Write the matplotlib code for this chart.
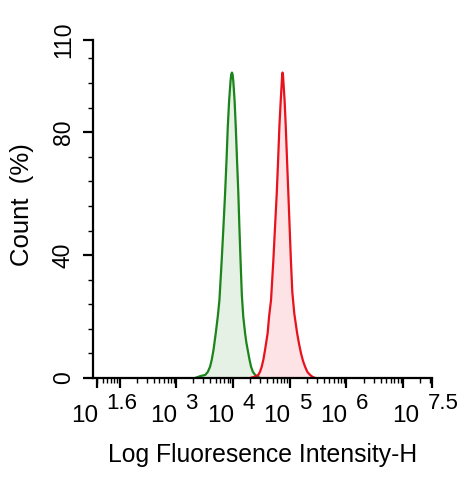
import matplotlib
matplotlib.use("Agg")
import matplotlib.pyplot as plt
import matplotlib.transforms as mtransforms
import numpy as np
from matplotlib.ticker import FixedLocator, NullFormatter

plt.rcParams['font.family'] = ['Liberation Sans', 'DejaVu Sans']

# histogram outlines (x as log10 of intensity, y as count %)
green_log = [3.33, 3.42, 3.51, 3.555, 3.595, 3.625, 3.655, 3.695, 3.73, 3.76,
             3.80, 3.83, 3.86, 3.885, 3.907, 3.93, 3.955, 3.968, 3.98, 3.992,
             4.005, 4.028, 4.048, 4.07, 4.093, 4.112, 4.132, 4.155, 4.18,
             4.212, 4.235, 4.259, 4.29, 4.317, 4.35, 4.39, 4.43, 4.48]
green_count = [0, 0.6, 1.0, 2.0, 3.7, 6.0, 9.1, 14.6, 19.9, 25.4,
               38.4, 49, 60.2, 71, 81.7, 90, 96.5, 98.8, 99.4, 98.8,
               96.5, 90, 81.7, 71, 60.2, 49, 38.4, 27, 20,
               14.6, 11.5, 9.1, 6.0, 3.7, 2.0, 1.0, 0.4, 0]

red_log = [4.30, 4.38, 4.446, 4.475, 4.506, 4.535, 4.564, 4.61, 4.635, 4.67,
           4.711, 4.74, 4.771, 4.795, 4.817, 4.84, 4.86, 4.867, 4.873, 4.88,
           4.888, 4.91, 4.93, 4.952, 4.975, 4.998, 5.02, 5.045, 5.08, 5.13,
           5.165, 5.199, 5.235, 5.27, 5.31, 5.358, 5.40, 5.45]
red_count = [0, 0.4, 1.0, 2.0, 3.7, 6.0, 9.1, 14.6, 19.9, 25.4,
             38.4, 49, 60.2, 71, 81.7, 90, 96.5, 98.8, 99.4, 98.8,
             96.5, 90, 81.7, 71, 60.2, 49, 38.4, 28, 21, 14.6,
             11, 8, 5.5, 3.7, 2.0, 1.0, 0.4, 0]

x_label_exps = ['1.6', '3', '4', '5', '6', '7.5']
x_label_pos = [1.6, 3, 4, 5, 6, 7.5]
y_major = [0, 40, 80, 110]
y_minor = [8, 16, 24, 32, 48, 56, 64, 72, 88, 96, 104]

fig = plt.figure(figsize=(4.76, 4.79), dpi=100)
ax = fig.add_axes([93 / 476, 1 - 378 / 479, (431.5 - 93) / 476, (378 - 40) / 479])

gx = 10 ** np.array(green_log)
rx = 10 ** np.array(red_log)
ax.fill_between(gx, green_count, 0, color='#e4f1e4', lw=0)
ax.fill_between(rx, red_count, 0, color='#fde2e6', lw=0)
ax.plot(gx, green_count, color='#1b841b', lw=1.6)
ax.plot(rx, red_count, color='#e8121c', lw=1.6)

ax.set_xscale('log')
ax.set_xlim(10 ** 1.53, 10 ** 7.5)
ax.set_ylim(0, 110)

for s in ['top', 'right']:
    ax.spines[s].set_visible(False)
for s in ['left', 'bottom']:
    ax.spines[s].set_linewidth(1.6)

major_x = [10 ** 1.6] + [10.0 ** k for k in range(2, 8)] + [10 ** 7.5]
minor_x = [m * 10.0 ** k for k in range(1, 8) for m in range(2, 10)
           if 10 ** 1.53 <= m * 10.0 ** k <= 10 ** 7.5]
ax.xaxis.set_major_locator(FixedLocator(major_x))
ax.xaxis.set_minor_locator(FixedLocator(minor_x))
ax.xaxis.set_major_formatter(NullFormatter())
ax.xaxis.set_minor_formatter(NullFormatter())
ax.yaxis.set_major_locator(FixedLocator(y_major))
ax.yaxis.set_minor_locator(FixedLocator(y_minor))
ax.tick_params(axis='both', which='major', direction='out', length=7, width=1.6)
ax.tick_params(axis='both', which='minor', direction='out', length=3.5, width=1.0)
ax.tick_params(axis='y', which='major', labelsize=16.5, pad=6, labelrotation=90)
for lab in ax.get_yticklabels():
    lab.set_va('center')

# x tick labels: "10" with a raised exponent
trans = mtransforms.blended_transform_factory(ax.transData, fig.transFigure)
for e, p in zip(x_label_exps, x_label_pos):
    xv = 10 ** p
    dx = -13 if p == 7.5 else 0
    off_base = mtransforms.offset_copy(trans, fig=fig, x=1 + dx, y=0, units='dots')
    off_exp = mtransforms.offset_copy(trans, fig=fig, x=9 + dx, y=0, units='dots')
    ax.text(xv, 1 - 422 / 479, '10', transform=off_base, ha='right', va='baseline',
            fontsize=17.5, clip_on=False)
    ax.text(xv, 1 - 409 / 479, e, transform=off_exp, ha='left', va='baseline',
            fontsize=16, clip_on=False)

fig.text(263 / 476, 1 - 455 / 479, 'Log Fluoresence Intensity-H', ha='center',
         va='center', fontsize=17.8)
fig.text(22 / 476, 1 - 205 / 479, 'Count  (%)', ha='center', va='center',
         rotation=90, fontsize=18.5)

fig.savefig('out.png', dpi=100)
